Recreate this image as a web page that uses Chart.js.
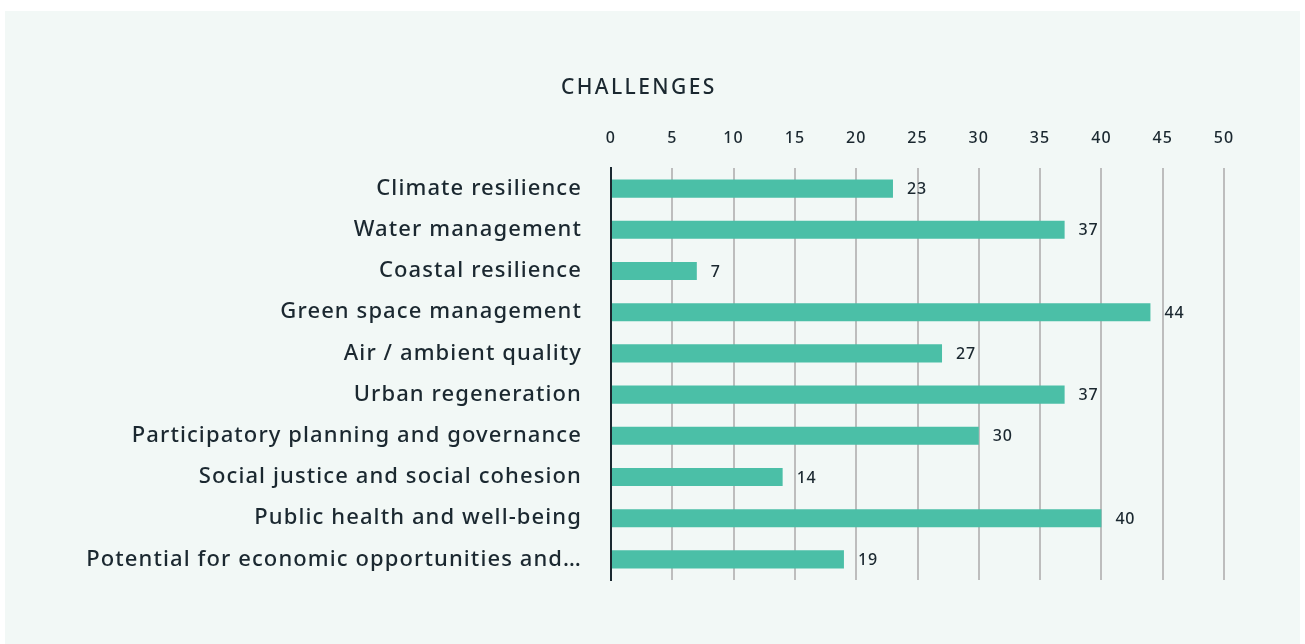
<!DOCTYPE html>
<html>
<head>
<meta charset="utf-8">
<script src="https://cdn.jsdelivr.net/npm/chart.js@4.4.0/dist/chart.umd.min.js"></script>
<style>
  html, body { margin: 0; padding: 0; background: #ffffff; }
  #panel { position: absolute; left: 5px; top: 11px; width: 1295px; height: 633px; background: #f2f8f6; }
  #wrap { position: absolute; left: 0; top: 0; width: 1305px; height: 644px; }
</style>
</head>
<body>
<div id="panel"></div>
<div id="wrap"><canvas id="challengesChart"></canvas></div>
<script>
  const categories = [
    'Climate resilience',
    'Water management',
    'Coastal resilience',
    'Green space management',
    'Air / ambient quality',
    'Urban regeneration',
    'Participatory planning and governance',
    'Social justice and social cohesion',
    'Public health and well-being',
    'Potential for economic opportunities and\u2026'
  ];
  const counts = [23, 37, 7, 44, 27, 37, 30, 14, 40, 19];
  const tickValues = [0, 5, 10, 15, 20, 25, 30, 35, 40, 45, 50];
  const chartTitle = 'CHALLENGES';

  const FONT = "'Noto Sans', sans-serif";
  const TEXT = '#1b2830';

  // wider text to get closer to the original geometric font
  const spacing = {
    id: 'spacing',
    beforeDraw(chart) { chart.ctx.letterSpacing = '1.1px'; }
  };

  // title + value labels
  const extras = {
    id: 'extras',
    afterDatasetsDraw(chart) {
      const ctx = chart.ctx;
      const area = chart.chartArea;
      ctx.save();
      ctx.fillStyle = TEXT;
      ctx.textAlign = 'left';
      ctx.textBaseline = 'middle';
      ctx.letterSpacing = '2.4px';
      ctx.font = '500 21px ' + FONT;
      ctx.fillText(chartTitle, area.left - 50, 88);

      ctx.letterSpacing = '0.8px';
      ctx.font = '500 16px ' + FONT;
      const meta = chart.getDatasetMeta(0);
      meta.data.forEach((bar, i) => {
        ctx.fillText(String(counts[i]), bar.x + 14, bar.y + 1);
      });
      ctx.restore();
    }
  };

  new Chart(document.getElementById('challengesChart'), {
    type: 'bar',
    data: {
      labels: categories,
      datasets: [{
        data: counts,
        backgroundColor: '#4bbfa7',
        borderWidth: 0,
        barPercentage: 0.88,
        categoryPercentage: 0.5
      }]
    },
    options: {
      indexAxis: 'y',
      responsive: true,
      maintainAspectRatio: false,
      animation: false,
      layout: { padding: { left: 0, right: 81, top: 0, bottom: 64 } },
      plugins: {
        legend: { display: false },
        tooltip: { enabled: false }
      },
      scales: {
        x: {
          position: 'top',
          min: 0,
          max: 50,
          afterBuildTicks: (scale) => { scale.ticks = tickValues.map(v => ({ value: v })); },
          afterFit: (scale) => { scale.height = 168; },
          grid: { color: '#bdbdbd', lineWidth: 2, drawTicks: false },
          border: { display: false },
          ticks: { color: TEXT, font: { family: FONT, size: 16, weight: '500' }, padding: 20 }
        },
        y: {
          afterFit: (scale) => { scale.width = 611; },
          grid: { display: false, drawTicks: false },
          border: { display: true, color: TEXT, width: 2 },
          ticks: { color: TEXT, font: { family: FONT, size: 22, weight: '500' }, padding: 29 }
        }
      }
    },
    plugins: [spacing, extras]
  });
</script>
</body>
</html>
